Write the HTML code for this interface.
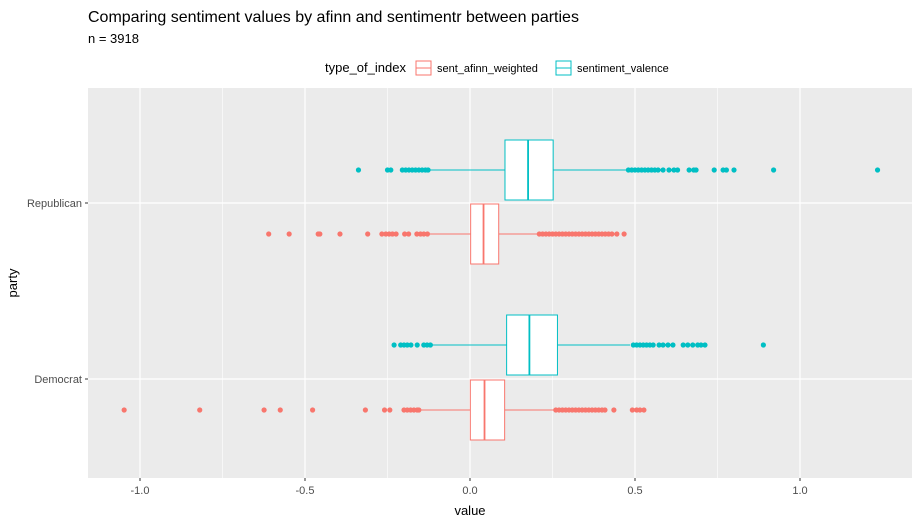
<!DOCTYPE html>
<html><head><meta charset="utf-8"><style>
body{margin:0;background:#fff;}
svg{font-family:"Liberation Sans",Arial,sans-serif;}
</style></head><body>
<svg id="c" width="922" height="523" xmlns="http://www.w3.org/2000/svg">
<text x="88" y="22" font-size="16" fill="#000">Comparing sentiment values by afinn and sentimentr between parties</text>
<text x="88" y="43" font-size="13" fill="#000">n = 3918</text>
<g>
<text x="325" y="72" font-size="13">type_of_index</text>
<g>
<rect x="416" y="61" width="15" height="14" fill="#fff" stroke="#F8766D"/><line x1="416" x2="431" y1="68" y2="68" stroke="#F8766D"/>
<text x="437" y="72" font-size="11">sent_afinn_weighted</text></g>
<g>
<rect x="556" y="61" width="15" height="14" fill="#fff" stroke="#00BFC4"/><line x1="556" x2="571" y1="68" y2="68" stroke="#00BFC4"/>
<text x="577" y="72" font-size="11">sentiment_valence</text></g>
</g>
<rect x="88" y="88" width="824" height="390" fill="#EBEBEB"/>
<g id="grid"></g><g id="marks"></g><g id="axes"></g>
<text x="470" y="515" font-size="13" text-anchor="middle">value</text>
<text transform="translate(17,283) rotate(-90)" font-size="13" text-anchor="middle">party</text>
</svg>
<script>
const categories=["Republican","Democrat"];
const series=["sentiment_valence","sent_afinn_weighted"];
const xTicks=[-1.0,-0.5,0.0,0.5,1.0];
const xTickLabels=["-1.0","-0.5","0.0","0.5","1.0"];
// [q1, median, q3, whiskerLow, whiskerHigh] per category per series
const repValence=[0.106,0.176,0.252,-0.12,0.476];
const repAfinn=[0.002,0.041,0.087,-0.124,0.209];
const demValence=[0.111,0.18,0.265,-0.116,0.485];
const demAfinn=[0.001,0.044,0.105,-0.153,0.255];
const repValenceOut=[-0.338,-0.25,-0.24,-0.205,-0.195,-0.185,-0.175,-0.165,-0.155,-0.145,-0.135,-0.127,0.48,0.49,0.5,0.51,0.52,0.53,0.54,0.55,0.56,0.57,0.585,0.603,0.618,0.629,0.664,0.678,0.685,0.74,0.767,0.777,0.8,0.92,1.235];
const repAfinnOut=[-0.61,-0.548,-0.46,-0.455,-0.394,-0.31,-0.267,-0.255,-0.245,-0.235,-0.224,-0.198,-0.186,-0.161,-0.15,-0.14,-0.129,0.21,0.22,0.23,0.24,0.25,0.26,0.27,0.28,0.29,0.3,0.31,0.32,0.33,0.34,0.35,0.36,0.37,0.38,0.39,0.4,0.41,0.42,0.43,0.445,0.467];
const demValenceOut=[-0.23,-0.21,-0.2,-0.19,-0.179,-0.16,-0.14,-0.13,-0.12,0.495,0.505,0.515,0.525,0.535,0.545,0.555,0.573,0.585,0.6,0.615,0.646,0.66,0.675,0.69,0.7,0.712,0.889];
const demAfinnOut=[-1.048,-0.819,-0.624,-0.575,-0.477,-0.317,-0.259,-0.243,-0.2,-0.19,-0.18,-0.17,-0.16,-0.155,0.26,0.27,0.28,0.29,0.3,0.31,0.32,0.33,0.34,0.35,0.36,0.37,0.38,0.39,0.4,0.409,0.436,0.492,0.505,0.515,0.527];
const NS="http://www.w3.org/2000/svg";
const X=v=>470+v*330;
const catY={Republican:203,Democrat:379};
function mk(t,a,p){const e=document.createElementNS(NS,t);for(const k in a)e.setAttribute(k,a[k]);p.appendChild(e);return e;}
const grid=document.getElementById('grid'),marks=document.getElementById('marks'),axes=document.getElementById('axes');
for(let i=0;i<xTicks.length-1;i++){const m=(xTicks[i]+xTicks[i+1])/2;const l=mk('line',{x1:X(m),x2:X(m),y1:88,y2:478,stroke:'#fff','stroke-width':0.6},grid);

}
xTicks.forEach((t,i)=>{const l=mk('line',{x1:X(t),x2:X(t),y1:88,y2:478,stroke:'#fff','stroke-width':1.2},grid);


mk('line',{x1:X(t),x2:X(t),y1:478,y2:481,stroke:'#333'},axes);
const tx=mk('text',{x:X(t),y:494,'font-size':11,fill:'#4D4D4D','text-anchor':'middle'},axes);tx.textContent=xTickLabels[i];

});
categories.forEach(c=>{const y=catY[c];const l=mk('line',{x1:88,x2:912,y1:y,y2:y,stroke:'#fff','stroke-width':1.2},grid);


mk('line',{x1:85,x2:88,y1:y,y2:y,stroke:'#333'},axes);
const tx=mk('text',{x:82,y:y+4,'font-size':11,fill:'#4D4D4D','text-anchor':'end'},axes);tx.textContent=c;

});
function box(stats,out,cy,col,name){
const g=mk('g',{},marks);


const [q1,md,q3,wl,wh]=stats;
mk('line',{x1:X(wl),x2:X(q1),y1:cy,y2:cy,stroke:col},g);
mk('line',{x1:X(q3),x2:X(wh),y1:cy,y2:cy,stroke:col},g);
mk('rect',{x:X(q1),y:cy-30,width:X(q3)-X(q1),height:60,fill:'#fff',stroke:col},g);
mk('line',{x1:X(md),x2:X(md),y1:cy-30,y2:cy+30,stroke:col,'stroke-width':1.8},g);
out.forEach(v=>{const p=mk('circle',{cx:X(v),cy:cy,r:2.6,fill:col},g);

});}
box(repValence,repValenceOut,catY.Republican-33,'#00BFC4','box-republican-valence');
box(repAfinn,repAfinnOut,catY.Republican+31,'#F8766D','box-republican-afinn');
box(demValence,demValenceOut,catY.Democrat-34,'#00BFC4','box-democrat-valence');
box(demAfinn,demAfinnOut,catY.Democrat+31,'#F8766D','box-democrat-afinn');
</script>
</body></html>
